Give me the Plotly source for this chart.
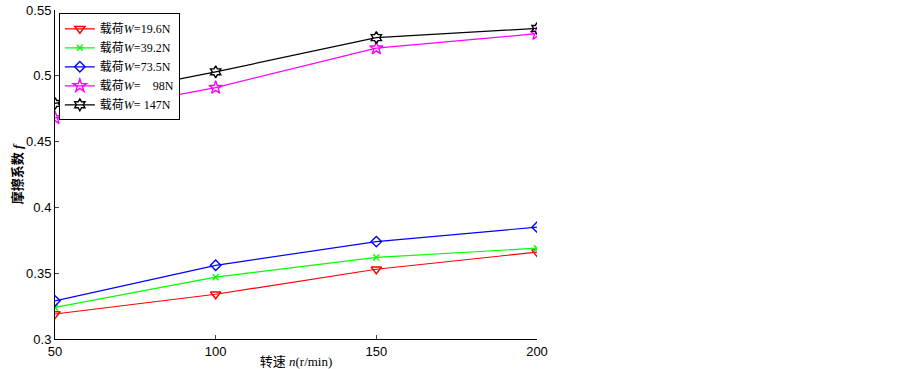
import plotly.graph_objects as go

speed = [50, 100, 150, 200]
f_196 = [0.319, 0.334, 0.353, 0.366]
f_392 = [0.324, 0.347, 0.362, 0.369]
f_735 = [0.329, 0.356, 0.374, 0.385]
f_98 = [0.468, 0.491, 0.521, 0.532]
f_147 = [0.479, 0.503, 0.529, 0.536]
labels = ["载荷<i>W</i>=19.6N", "载荷<i>W</i>=39.2N", "载荷<i>W</i>=73.5N",
          "载荷<i>W</i>=\u00a0\u00a0\u00a0\u00a098N", "载荷<i>W</i>=\u00a0147N"]
x_ticks = [50, 100, 150, 200]
y_ticks = [0.3, 0.35, 0.4, 0.45, 0.5, 0.55]
y_tick_text = ["0.3", "0.35", "0.4", "0.45", "0.5", "0.55"]

series = [f_196, f_392, f_735, f_98, f_147]
colors = ["#ff0000", "#00ff00", "#0000ff", "#ff00ff", "#000000"]
symbols = ["triangle-down-open", "x-thin-open", "diamond-open", "star-open", "hexagram-open"]
sizes = [9, 6, 8, 10, 9]

fig = go.Figure()
for vals, lab, c, s, sz in zip(series, labels, colors, symbols, sizes):
    fig.add_trace(go.Scatter(
        x=speed, y=vals, name=lab, mode="lines+markers",
        line=dict(color=c, width=1.2),
        marker=dict(symbol=s, size=sz, color=c, line=dict(color=c, width=1.4)),
    ))

fig.update_layout(
    width=903, height=369,
    margin=dict(l=55, r=366, t=10, b=30, autoexpand=False),
    paper_bgcolor="white", plot_bgcolor="white",
    font=dict(family="Liberation Serif, Noto Sans CJK SC", size=13, color="black"),
    showlegend=True,
    legend=dict(
        x=0.008, y=0.99, xanchor="left", yanchor="top",
        bgcolor="white", bordercolor="black", borderwidth=1,
        font=dict(family="Liberation Serif, Noto Sans CJK SC", size=12),
        tracegroupgap=0, itemwidth=30,
    ),
    xaxis=dict(
        range=[50, 200], tickvals=x_ticks, ticks="inside", ticklen=4,
        showline=True, linecolor="black", linewidth=1, showgrid=False, zeroline=False,
        automargin=False,
        tickfont=dict(family="Liberation Sans", size=13),
        title=dict(text="转速 <i>n</i>(r/min)", standoff=0,
                   font=dict(family="Liberation Serif, Noto Sans CJK SC", size=13)),
    ),
    yaxis=dict(
        range=[0.3, 0.55], tickvals=y_ticks, ticktext=y_tick_text, ticks="inside", ticklen=4,
        showline=True, linecolor="black", linewidth=1, showgrid=False, zeroline=False,
        automargin=False,
        tickfont=dict(family="Liberation Sans", size=13),
        title=dict(text="<b>摩擦系数 <i>f</i></b>", standoff=0,
                   font=dict(family="Liberation Serif, Noto Sans CJK SC", size=13)),
    ),
)

fig.write_html("out.html", config={"displayModeBar": False},
               post_script="document.body.style.margin='0';")
